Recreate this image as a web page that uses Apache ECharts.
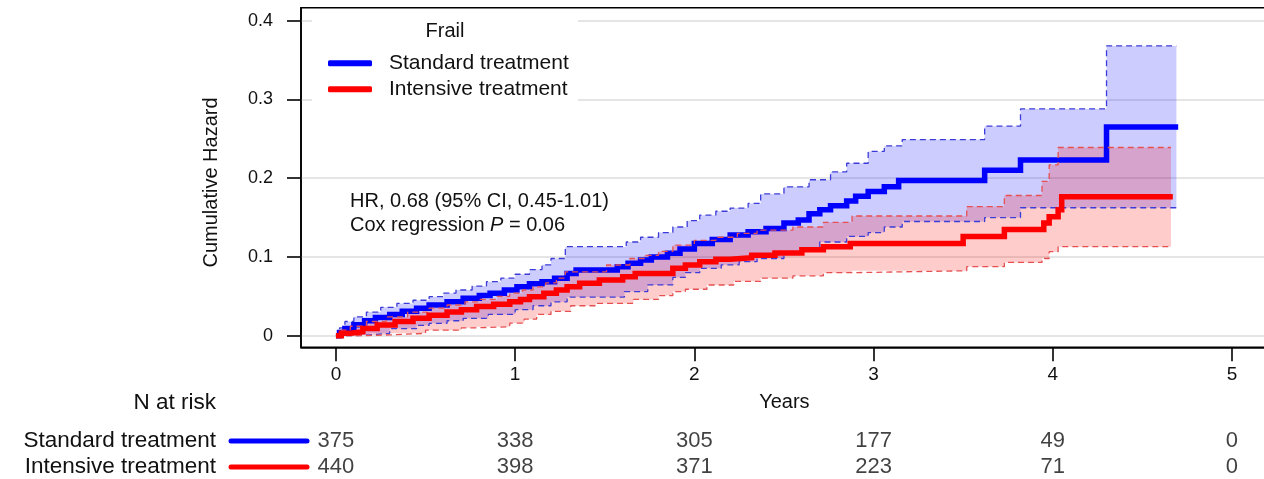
<!DOCTYPE html>
<html>
<head>
<meta charset="utf-8">
<title>Frail: cumulative hazard by treatment arm</title>
<script src="https://cdn.jsdelivr.net/npm/echarts@6/dist/echarts.min.js"></script>
<style>
  html, body { margin: 0; padding: 0; background: #fff; }
  #chart { width: 1264px; height: 479px; }
</style>
</head>
<body>
<div id="chart"></div>
<script>
// Cumulative hazard step curves, [years, cumulative hazard] at each step
const stdEst = [
  [0, 0], [0.02, 0.004], [0.05, 0.009], [0.10, 0.014], [0.16, 0.019], [0.22, 0.023],
  [0.30, 0.027], [0.37, 0.031], [0.45, 0.035], [0.52, 0.039], [0.62, 0.043], [0.71, 0.0475],
  [0.80, 0.051], [0.86, 0.054], [0.94, 0.058], [1.01, 0.062], [1.08, 0.066], [1.15, 0.0686],
  [1.22, 0.073], [1.29, 0.079], [1.34, 0.0834], [1.57, 0.0876], [1.63, 0.092], [1.70, 0.096],
  [1.76, 0.100], [1.85, 0.1046], [1.92, 0.110], [2.00, 0.117], [2.10, 0.122], [2.20, 0.128],
  [2.30, 0.132], [2.40, 0.136], [2.50, 0.143], [2.58, 0.147], [2.64, 0.155], [2.70, 0.160],
  [2.76, 0.165], [2.85, 0.171], [2.90, 0.177], [2.97, 0.183], [3.06, 0.189], [3.14, 0.197],
  [3.62, 0.210], [3.82, 0.223], [4.30, 0.265], [4.70, 0.265]
];
const stdHi = [
  [0, 0], [0.02, 0.010], [0.05, 0.018], [0.10, 0.024], [0.17, 0.030], [0.25, 0.036],
  [0.34, 0.041], [0.43, 0.045], [0.52, 0.0495], [0.60, 0.054], [0.67, 0.058], [0.76, 0.063],
  [0.84, 0.0686], [0.92, 0.073], [1.00, 0.078], [1.08, 0.084], [1.15, 0.090], [1.20, 0.098],
  [1.28, 0.113], [1.62, 0.119], [1.70, 0.125], [1.80, 0.131], [1.88, 0.138], [1.96, 0.146],
  [2.03, 0.153], [2.12, 0.158], [2.20, 0.162], [2.30, 0.168], [2.37, 0.180], [2.50, 0.189],
  [2.64, 0.198], [2.76, 0.208], [2.85, 0.219], [2.97, 0.234], [3.06, 0.241], [3.16, 0.249],
  [3.62, 0.266], [3.82, 0.288], [4.30, 0.368], [4.69, 0.368]
];
const stdLo = [
  [0, 0], [0.10, 0.001], [0.19, 0.003], [0.30, 0.009], [0.45, 0.013], [0.52, 0.0157],
  [0.62, 0.019], [0.71, 0.022], [0.85, 0.027], [1.00, 0.033], [1.10, 0.038], [1.20, 0.043],
  [1.29, 0.049], [1.61, 0.056], [1.74, 0.0645], [1.88, 0.074], [1.95, 0.080], [2.03, 0.0856],
  [2.15, 0.090], [2.25, 0.094], [2.35, 0.098], [2.50, 0.105], [2.60, 0.110], [2.70, 0.119],
  [2.85, 0.126], [2.97, 0.131], [3.06, 0.138], [3.16, 0.145], [3.62, 0.150], [3.82, 0.1625],
  [4.69, 0.1625]
];
const intEst = [
  [0, 0], [0.03, 0.003], [0.08, 0.005], [0.15, 0.009], [0.23, 0.0136], [0.33, 0.018],
  [0.43, 0.022], [0.52, 0.026], [0.62, 0.030], [0.70, 0.033], [0.785, 0.037], [0.88, 0.040],
  [0.97, 0.043], [1.03, 0.046], [1.08, 0.0495], [1.16, 0.054], [1.23, 0.058], [1.29, 0.062],
  [1.36, 0.0665], [1.47, 0.0707], [1.60, 0.075], [1.67, 0.079], [1.88, 0.0856], [1.95, 0.0898],
  [2.03, 0.094], [2.12, 0.097], [2.20, 0.099], [2.32, 0.102], [2.45, 0.105], [2.60, 0.109],
  [2.72, 0.113], [2.87, 0.117], [3.50, 0.126], [3.73, 0.135], [3.95, 0.143], [3.98, 0.151],
  [4.03, 0.160], [4.05, 0.1765], [4.67, 0.1765]
];
const intHi = [
  [0, 0], [0.03, 0.007], [0.08, 0.012], [0.17, 0.018], [0.28, 0.024], [0.40, 0.030],
  [0.52, 0.035], [0.62, 0.039], [0.72, 0.043], [0.80, 0.046], [0.90, 0.050], [0.97, 0.054],
  [1.04, 0.058], [1.10, 0.062], [1.17, 0.067], [1.23, 0.073], [1.28, 0.081], [1.51, 0.0898],
  [1.64, 0.098], [1.72, 0.102], [1.80, 0.107], [1.88, 0.115], [2.00, 0.121], [2.12, 0.125],
  [2.24, 0.130], [2.35, 0.134], [2.55, 0.138], [2.72, 0.144], [2.88, 0.152], [3.52, 0.164],
  [3.73, 0.178], [3.94, 0.196], [3.98, 0.217], [4.03, 0.239], [4.66, 0.239]
];
const intLo = [
  [0, 0], [0.12, 0.001], [0.30, 0.003], [0.50, 0.007], [0.70, 0.010], [0.785, 0.0114],
  [0.97, 0.016], [1.05, 0.021], [1.12, 0.027], [1.20, 0.031], [1.31, 0.038], [1.45, 0.041],
  [1.66, 0.046], [1.80, 0.051], [1.88, 0.056], [1.95, 0.059], [2.07, 0.0644], [2.22, 0.069],
  [2.37, 0.073], [2.55, 0.076], [2.72, 0.080], [2.88, 0.0825], [3.52, 0.0876], [3.73, 0.093],
  [3.94, 0.098], [3.98, 0.1067], [4.03, 0.113], [4.66, 0.113]
];

// Axis ticks
const yearTicks = [0, 1, 2, 3, 4, 5];
const hazardTicks = [0, 0.1, 0.2, 0.3, 0.4];

// Numbers at risk at each whole year
const riskYears = [0, 1, 2, 3, 4, 5];
const stdAtRisk = [375, 338, 305, 177, 49, 0];
const intAtRisk = [440, 398, 371, 223, 71, 0];

const armStd = 'Standard treatment';
const armInt = 'Intensive treatment';

const FONT = '"Liberation Sans", Arial, Helvetica, sans-serif';
const BLUE = '#0000ff';
const RED = '#ff0000';

// Expand a step curve into its corner points (value holds until the next step)
function stepCorners(curve) {
  const out = [];
  curve.forEach(function (p, i) {
    if (i > 0) out.push([p[0], curve[i - 1][1]]);
    out.push(p);
  });
  return out;
}

// Confidence band between an upper and a lower step curve
function bandRenderer(hi, lo, fill) {
  return function (params, api) {
    const pts = [];
    stepCorners(hi).forEach(function (p) { pts.push(api.coord(p)); });
    stepCorners(lo).reverse().forEach(function (p) { pts.push(api.coord(p)); });
    return { type: 'polygon', shape: { points: pts }, style: { fill: fill }, silent: true };
  };
}

function band(name, hi, lo, fill) {
  return {
    name: name, type: 'custom', xAxisIndex: 0, yAxisIndex: 0,
    data: [[0, 0]], renderItem: bandRenderer(hi, lo, fill), silent: true,
    clip: true
  };
}

function ciLine(name, data, color) {
  return {
    name: name, type: 'line', step: 'end', data: data, showSymbol: false, symbol: 'none',
    silent: true, lineStyle: { color: color, width: 1.3, type: [6, 4] }, itemStyle: { color: color }
  };
}

function estLine(name, data, color) {
  return {
    name: name, type: 'line', step: 'end', data: data, showSymbol: false, symbol: 'none',
    silent: true, lineStyle: { color: color, width: 5.5, join: 'miter', cap: 'butt' },
    itemStyle: { color: color }
  };
}

function riskSeries(name, counts) {
  return {
    name: name + ' at risk', type: 'scatter', xAxisIndex: 1, yAxisIndex: 1,
    data: riskYears.map(function (t, i) { return [t, name, counts[i]]; }),
    symbolSize: 1, itemStyle: { color: 'rgba(0,0,0,0)' }, silent: true,
    label: {
      show: true, position: 'inside', formatter: function (p) { return String(p.value[2]); },
      color: '#111', fontSize: 22, fontFamily: FONT
    }
  };
}

const chart = echarts.init(document.getElementById('chart'), null, { renderer: 'canvas' });

const xRange = { min: -0.195, max: 5.2 };

chart.setOption({
  animation: false,
  backgroundColor: '#fff',
  textStyle: { fontFamily: FONT },
  grid: [
    {
      left: 301, top: 7.7, width: 966.8, height: 339.6,
      show: true, borderColor: '#000', borderWidth: 1.6, backgroundColor: 'transparent',
      outerBoundsMode: 'none', containLabel: false
    },
    {
      left: 301, top: 428, width: 966.8, height: 52,
      show: false, outerBoundsMode: 'none', containLabel: false
    }
  ],
  xAxis: [
    {
      type: 'value', gridIndex: 0, min: xRange.min, max: xRange.max,
      name: 'Years', nameLocation: 'middle', nameGap: 45, nameMoveOverlap: false,
      nameTextStyle: { fontSize: 20, color: '#111', fontFamily: FONT },
      axisLine: { show: true, onZero: false, lineStyle: { color: '#000', width: 1.6 } },
      axisTick: { show: true, length: 14, customValues: yearTicks, lineStyle: { color: '#000', width: 1.6 } },
      axisLabel: { customValues: yearTicks, margin: 18, fontSize: 19, color: '#111', fontFamily: FONT },
      splitLine: { show: false }
    },
    {
      type: 'value', gridIndex: 1, min: xRange.min, max: xRange.max, show: false,
      splitLine: { show: false }
    }
  ],
  yAxis: [
    {
      type: 'value', gridIndex: 0, min: -0.01473, max: 0.4165,
      name: 'Cumulative Hazard', nameLocation: 'middle', nameGap: 80, nameMoveOverlap: false,
      nameTextStyle: { fontSize: 20, color: '#111', fontFamily: FONT, padding: [0, 10, 0, 0] },
      axisLine: { show: true, onZero: false, lineStyle: { color: '#000', width: 1.6 } },
      axisTick: { show: true, length: 14, customValues: hazardTicks, lineStyle: { color: '#000', width: 1.6 } },
      axisLabel: { customValues: hazardTicks, margin: 28, fontSize: 18, color: '#111', fontFamily: FONT },
      splitLine: { show: true, lineStyle: { color: '#dcdcdc', width: 1.5 } }
    },
    {
      type: 'category', gridIndex: 1, data: [armInt, armStd], show: false
    }
  ],
  legend: {
    data: [armStd, armInt],
    orient: 'vertical', left: 328, top: 50.3, padding: 0, itemGap: 0,
    itemWidth: 44, itemHeight: 6, icon: 'roundRect',
    selectedMode: false, z: 6,
    textStyle: { fontSize: 21, color: '#111', fontFamily: FONT, lineHeight: 26, padding: [0, 0, 0, 12] }
  },
  graphic: [
    // legend panel background over the grid lines
    { type: 'rect', z: 1, silent: true, shape: { x: 312, y: 11, width: 266, height: 94 }, style: { fill: '#fff' } },
    { type: 'text', z: 6, silent: true, x: 445, y: 31,
      style: { text: 'Frail', fontSize: 20, fill: '#111', fontFamily: FONT, align: 'center', verticalAlign: 'middle' } },
    { type: 'text', z: 6, silent: true, x: 350, y: 201,
      style: { text: 'HR, 0.68 (95% CI, 0.45-1.01)', fontSize: 20, fill: '#111', fontFamily: FONT, align: 'left', verticalAlign: 'middle' } },
    { type: 'text', z: 6, silent: true, x: 350, y: 225,
      style: {
        text: 'Cox regression {i|P} = 0.06', fontSize: 20, fill: '#111', fontFamily: FONT,
        align: 'left', verticalAlign: 'middle',
        rich: { i: { fontStyle: 'italic', fontSize: 20, fill: '#111', fontFamily: FONT } }
      } },
    // number-at-risk table headings
    { type: 'text', z: 6, silent: true, x: 216, y: 403,
      style: { text: 'N at risk', fontSize: 22.5, fill: '#111', fontFamily: FONT, align: 'right', verticalAlign: 'middle' } },
    { type: 'text', z: 6, silent: true, x: 216, y: 441,
      style: { text: armStd, fontSize: 22.5, fill: '#111', fontFamily: FONT, align: 'right', verticalAlign: 'middle' } },
    { type: 'text', z: 6, silent: true, x: 216, y: 467,
      style: { text: armInt, fontSize: 22.5, fill: '#111', fontFamily: FONT, align: 'right', verticalAlign: 'middle' } },
    { type: 'line', z: 6, silent: true, shape: { x1: 231, y1: 441, x2: 307, y2: 441 },
      style: { stroke: BLUE, lineWidth: 5, lineCap: 'round' } },
    { type: 'line', z: 6, silent: true, shape: { x1: 231, y1: 467, x2: 307, y2: 467 },
      style: { stroke: RED, lineWidth: 5, lineCap: 'round' } }
  ],
  series: [
    band('Standard treatment 95% CI', stdHi, stdLo, 'rgba(0,0,255,0.2)'),
    ciLine('Standard treatment upper', stdHi, '#3c3cd8'),
    ciLine('Standard treatment lower', stdLo, '#3c3cd8'),
    estLine(armStd, stdEst, BLUE),
    band('Intensive treatment 95% CI', intHi, intLo, 'rgba(255,0,0,0.2)'),
    ciLine('Intensive treatment upper', intHi, '#e65050'),
    ciLine('Intensive treatment lower', intLo, '#e65050'),
    estLine(armInt, intEst, RED),
    riskSeries(armStd, stdAtRisk),
    riskSeries(armInt, intAtRisk)
  ]
});
</script>
</body>
</html>
